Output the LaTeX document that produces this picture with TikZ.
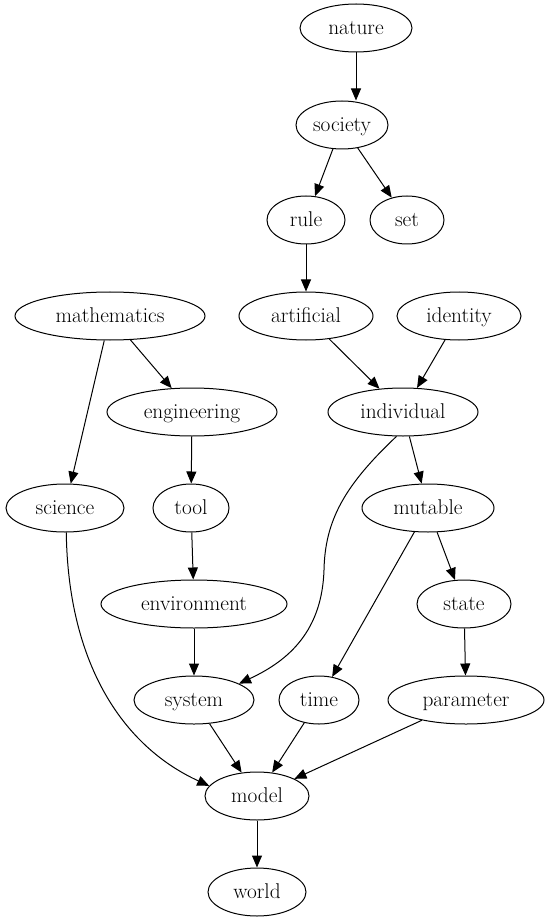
\documentclass[tikz,border=0pt]{standalone}
\usetikzlibrary{arrows.meta, shapes.geometric}

\begin{document}
\begin{tikzpicture}[
        x=0.75pt, y=-0.75pt,
        line width=0.75pt,
        >={Triangle[length=9pt, width=7.5pt]},
        every node/.style={font=\fontsize{16pt}{18pt}\selectfont},
        term/.style={draw, ellipse, inner sep=0pt, minimum height=36pt,
            text height=12pt, text depth=2.5pt}
    ]
    \useasboundingbox (0,0) rectangle (552,923);
    \node[term, minimum width=84pt] (nat) at (356,28) {nature};
    \node[term, minimum width=69pt] (soc) at (342,125) {society};
    \node[term, minimum width=58.5pt] (rul) at (306,220) {rule};
    \node[term, minimum width=55.5pt] (set) at (407,220) {set};
    \node[term, minimum width=142.5pt] (mat) at (110,316) {mathematics};
    \node[term, minimum width=100.5pt] (art) at (306,316) {artificial};
    \node[term, minimum width=93pt] (ide) at (459,316) {identity};
    \node[term, minimum width=127.5pt] (eng) at (192,412) {engineering};
    \node[term, minimum width=112.5pt] (ind) at (403,412) {individual};
    \node[term, minimum width=88.5pt] (sci) at (65,508) {science};
    \node[term, minimum width=57pt] (too) at (191,508) {tool};
    \node[term, minimum width=99pt] (mut) at (428,508) {mutable};
    \node[term, minimum width=139.5pt] (env) at (194,604) {environment};
    \node[term, minimum width=70.5pt] (sta) at (464,604) {state};
    \node[term, minimum width=90pt] (sys) at (194,700) {system};
    \node[term, minimum width=60pt] (tim) at (319,700) {time};
    \node[term, minimum width=117pt] (par) at (466,700) {parameter};
    \node[term, minimum width=78pt] (mod) at (257,796) {model};
    \node[term, minimum width=73.5pt] (wor) at (257,892) {world};
    \draw[->] (nat) -- (nat |- soc.north);
    \draw[->] (soc) -- (rul);
    \draw[->] (soc) -- (set);
    \draw[->] (rul) -- (art);
    \draw[->] (mat) -- (sci);
    \draw[->] (mat) -- (eng);
    \draw[->] (art) -- (ind);
    \draw[->] (ide) -- (ind);
    \draw[->] (eng) -- (too);
    \draw[->] (too) -- (env);
    \draw[->] (env) -- (sys);
    \draw[->] (ind) -- (mut);
    \draw[->] (ind.255) .. controls (345,485) and (325,520) .. (324,570)
        .. controls (322,630) and (290,660) .. (sys.20);
    \draw[->] (mut) -- (tim);
    \draw[->] (mut) -- (sta);
    \draw[->] (sta) -- (par);
    \draw[->] (sci.273) .. controls (68,660) and (120,745) .. (mod.168);
    \draw[->] (sys) -- (mod);
    \draw[->] (tim) -- (mod);
    \draw[->] (par) -- (mod);
    \draw[->] (mod) -- (wor);
\end{tikzpicture}
\end{document}
